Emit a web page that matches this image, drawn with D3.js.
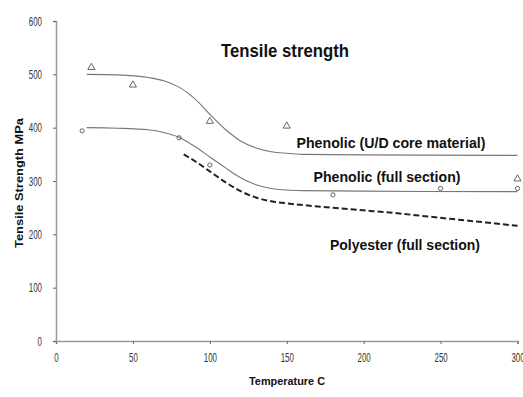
<!DOCTYPE html>
<html><head><meta charset="utf-8">
<script src="https://cdn.jsdelivr.net/npm/d3@7"></script>
<style>
body{margin:0;background:#fff;}
text{font-family:"Liberation Sans",Arial,sans-serif;}
</style></head>
<body><svg id="c" width="523" height="397"></svg>
<script>
const xTicks = [0, 50, 100, 150, 200, 250, 300];
const yTicks = [0, 100, 200, 300, 400, 500, 600];

const udPointsT = [23, 50, 100, 150, 300];
const udPointsV = [513, 480, 412, 403, 304];
const fullPointsT = [17, 80, 100, 180, 250, 300];
const fullPointsV = [394, 381, 330, 274, 286, 286];

const udCurveT = [20, 40, 60, 70, 80, 90, 100, 110, 120, 130, 140, 150, 160, 200, 300];
const udCurveV = [500, 499, 494, 488, 476, 455, 425, 397, 375, 362, 355, 352, 350, 349, 348];
const fullCurveT = [20, 40, 60, 70, 80, 90, 100, 110, 120, 130, 140, 150, 160, 200, 300];
const fullCurveV = [400, 399, 396, 391, 382, 365, 345, 325, 306, 293, 286, 283, 282, 281, 280];
const polyCurveT = [83, 90, 100, 110, 120, 130, 140, 150, 160, 180, 200, 220, 240, 260, 280, 300];
const polyCurveV = [350, 338, 318, 298, 281, 269, 262, 258, 255, 250, 245, 240, 234, 228, 222, 216];

const seriesLabels = ["Phenolic (U/D core material)", "Phenolic (full section)", "Polyester (full section)"];

const svg = d3.select("#c");
const x = d3.scaleLinear().domain([0, 300]).range([56, 517.5]);
const y = d3.scaleLinear().domain([0, 600]).range([341, 21]);

const axisCol = "#999";
const gx = svg.append("g").attr("transform", `translate(0,${y(0)})`)
  .call(d3.axisBottom(x).tickValues(xTicks).tickSize(3).tickPadding(8));
const gy = svg.append("g").attr("transform", `translate(${x(0)},0)`)
  .call(d3.axisLeft(y).tickValues(yTicks).tickSize(3).tickPadding(11));
[gx, gy].forEach(g => {
  g.select(".domain").attr("stroke", axisCol).attr("stroke-width", 1.5);
  g.selectAll(".tick line").attr("stroke", "#666");
  g.selectAll(".tick text").attr("fill", "#333").attr("font-size", 13.5)
    .attr("textLength", d => String(d).length * 4.4)
    .attr("lengthAdjust", "spacingAndGlyphs");
});

const line = d3.line().x(d => x(d[0])).y(d => y(d[1])).curve(d3.curveMonotoneX);
svg.append("path").datum(udCurveT.map((t, i) => [t, udCurveV[i]]))
  .attr("d", line).attr("fill", "none").attr("stroke", "#777").attr("stroke-width", 1.1);
svg.append("path").datum(fullCurveT.map((t, i) => [t, fullCurveV[i]]))
  .attr("d", line).attr("fill", "none").attr("stroke", "#777").attr("stroke-width", 1.1);
svg.append("path").datum(polyCurveT.map((t, i) => [t, polyCurveV[i]]))
  .attr("d", line).attr("fill", "none").attr("stroke", "#222").attr("stroke-width", 2)
  .attr("stroke-dasharray", "6,3");

const tri = d3.symbol().type(d3.symbolTriangle).size(22);
svg.selectAll(".tri").data(udPointsT.map((t, i) => [t, udPointsV[i]])).enter()
  .append("path").attr("d", tri)
  .attr("transform", d => `translate(${x(d[0])},${y(d[1])})`)
  .attr("fill", "none").attr("stroke", "#555").attr("stroke-width", 0.9);
const dia = d3.symbol().type(d3.symbolCircle).size(14);
svg.selectAll(".dia").data(fullPointsT.map((t, i) => [t, fullPointsV[i]])).enter()
  .append("path").attr("d", dia)
  .attr("transform", d => `translate(${x(d[0])},${y(d[1])})`)
  .attr("fill", "none").attr("stroke", "#555").attr("stroke-width", 0.9);

const lbl = (txt, cx, cy, size, w) => svg.append("text").text(txt)
  .attr("x", cx).attr("y", cy).attr("text-anchor", "middle")
  .attr("font-size", size).attr("font-weight", "bold").attr("fill", "#111")
  .attr("textLength", w).attr("lengthAdjust", "spacingAndGlyphs");

lbl("Tensile strength", 285, 57, 18, 128);
lbl(seriesLabels[0], 391, 148, 15.5, 189);
lbl(seriesLabels[1], 387, 182, 15.5, 147);
lbl(seriesLabels[2], 405, 250, 15.5, 150);

lbl("Temperature C", 287, 385, 10.5, 76);
svg.append("text").text("Tensile Strength MPa")
  .attr("transform", `translate(23,183) rotate(-90)`)
  .attr("text-anchor", "middle").attr("font-size", 10.5).attr("font-weight", "bold")
  .attr("fill", "#111").attr("textLength", 130).attr("lengthAdjust", "spacingAndGlyphs");
</script></body></html>
